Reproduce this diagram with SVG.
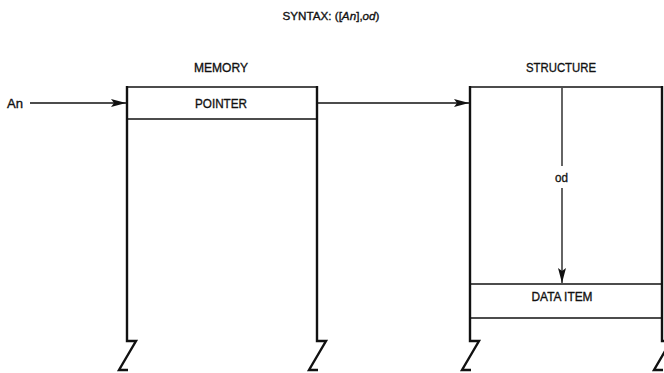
<svg xmlns="http://www.w3.org/2000/svg" width="664" height="373" viewBox="0 0 664 373">
<defs>
<style>
text{font-family:"Liberation Sans",Arial,sans-serif;fill:#111;stroke:#111;stroke-width:0.35;text-anchor:middle}
.t{font-size:11.5px}
.l{font-size:13.5px}
.wall{fill:none;stroke:#111;stroke-width:2.4;stroke-linejoin:miter}
.h{stroke:#111;stroke-width:1.7;fill:none}
.c{stroke:#111;stroke-width:1.3;fill:none}
</style>
<marker id="ah" markerWidth="16" markerHeight="10" refX="15" refY="5" orient="auto" markerUnits="userSpaceOnUse">
<path d="M0,1 L15,5 L0,9 L3,5 Z" fill="#111"/>
</marker>
</defs>
<rect width="664" height="373" fill="#fff"/>
<text class="t" x="331" y="20" textLength="97" lengthAdjust="spacingAndGlyphs">SYNTAX: ([<tspan font-style="italic">An</tspan>],<tspan font-style="italic">od</tspan>)</text>

<g id="memory">
<text class="l" x="221" y="72" textLength="54" lengthAdjust="spacingAndGlyphs">MEMORY</text>
<path class="wall" d="M127,86 L127,341 L136,341 L119,370 L128,370"/>
<path class="wall" d="M317,86 L317,341 L326,341 L309,370 L318,370"/>
<line class="h" x1="127" y1="87" x2="317" y2="87"/>
<line class="h" x1="127" y1="119" x2="317" y2="119"/>
<g id="pointer">
<text class="l" x="221" y="107.5" textLength="52" lengthAdjust="spacingAndGlyphs">POINTER</text>
</g>
</g>

<g id="structure">
<text class="l" x="561" y="72" textLength="70" lengthAdjust="spacingAndGlyphs">STRUCTURE</text>
<path class="wall" d="M470,86 L470,341 L479,341 L462,370 L471,370"/>
<path class="wall" d="M662,86 L662,341 L671,341 L654,370 L663,370"/>
<line class="h" x1="470" y1="87" x2="662" y2="87"/>
<g id="data-item">
<line class="h" x1="470" y1="284" x2="662" y2="284"/>
<line class="h" x1="470" y1="318" x2="662" y2="318"/>
<text class="l" x="562" y="300.5" textLength="61" lengthAdjust="spacingAndGlyphs">DATA ITEM</text>
</g>
</g>

<g id="an-label">
<text class="l" x="15" y="108" textLength="16" lengthAdjust="spacingAndGlyphs">An</text>
</g>

<g id="connectors">
<line class="c" x1="30" y1="103" x2="126" y2="103" marker-end="url(#ah)"/>
<line class="c" x1="318" y1="103" x2="469" y2="103" marker-end="url(#ah)"/>
<line class="c" x1="562" y1="88" x2="562" y2="166"/>
<line class="c" x1="562" y1="188" x2="562" y2="283" marker-end="url(#ah)"/>
<text class="l" x="561.5" y="182" textLength="13" lengthAdjust="spacingAndGlyphs">od</text>
</g>
</svg>
